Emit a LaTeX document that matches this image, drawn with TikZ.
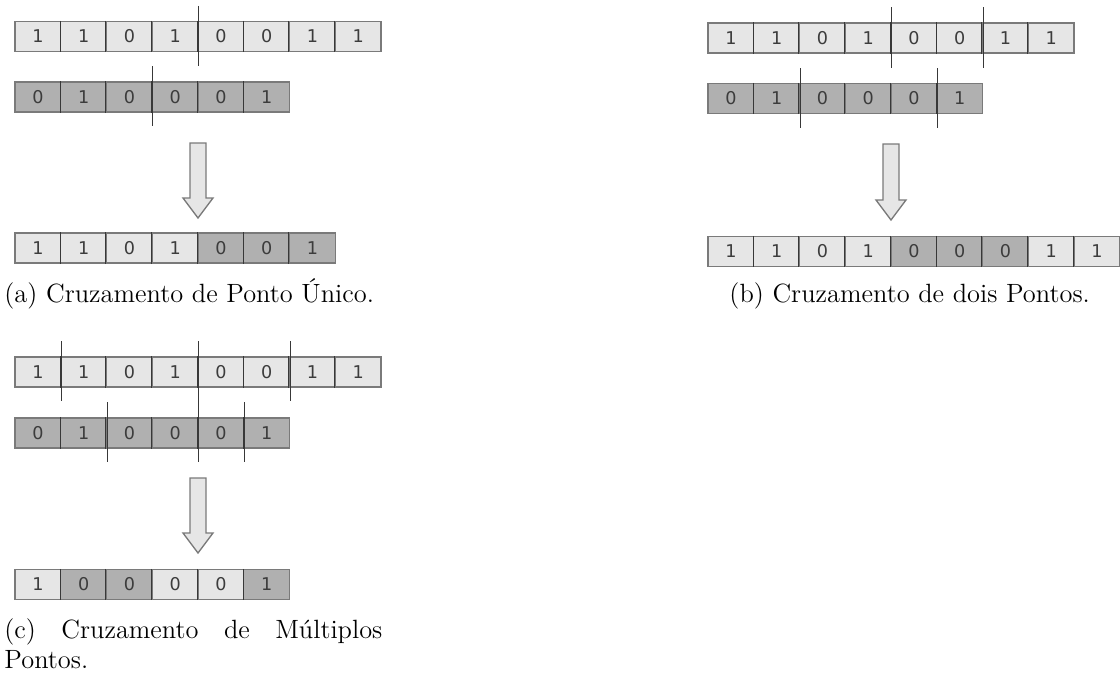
\documentclass[tikz,border=0pt]{standalone}
\usepackage{fontspec}
\newfontfamily\bitfont{DejaVu Sans}
\usetikzlibrary{positioning}

\definecolor{cl}{HTML}{E6E6E6}
\definecolor{es}{HTML}{B0B0B0}
\definecolor{borda}{HTML}{7A7A7A}
\definecolor{divisa}{HTML}{383838}
\definecolor{digito}{HTML}{3C3C3C}

\tikzset{
  bit/.style={draw=borda, line width=0.55pt, minimum width=20.8pt,
              minimum height=13.6pt, inner sep=0pt, text=digito,
              font=\bitfont\fontsize{8}{9}\selectfont},
  corte/.style={draw=divisa, line width=0.5pt},
  seta/.style={draw=borda, fill=cl, line width=0.6pt},
  legenda/.style={anchor=base west, inner sep=0pt,
                  font=\fontsize{12}{14.5}\selectfont},
}

% fileira de bits: nome, x inicial, y do centro, lista bit/cor
\newcommand{\fileira}[4]{%
  \foreach \v/\s [count=\i] in {#4} {
    \node[bit, fill=\s] (#1-\i) at ({#2+(\i-0.5)*45.75},#3) {\v};
    \ifnum\i>1
      \draw[divisa, line width=0.5pt] (#1-\i.north west) -- (#1-\i.south west);
    \fi
  }%
}
% seta para baixo: x do centro, y do topo, y da ponta
\newcommand{\setabaixo}[3]{%
  \draw[seta] (#1-8,#2) -- (#1+8,#2) -- (#1+8,#3-20) -- (#1+15,#3-20)
    -- (#1,#3) -- (#1-15,#3-20) -- (#1-8,#3-20) -- cycle;
}

\begin{document}
\begin{tikzpicture}[x=0.4545pt, y=-0.4545pt]
  \useasboundingbox (0,0) rectangle (1120,675);

  % (a) ponto unico
  \fileira{a1}{15}{36.5}{1/cl,1/cl,0/cl,1/cl,0/cl,0/cl,1/cl,1/cl}
  \fileira{a2}{15}{97}{0/es,1/es,0/es,0/es,0/es,1/es}
  \draw[corte] (a1-4.north east) ++(0,-15) -- ++(0,60);
  \draw[corte] (a2-3.north east) ++(0,-15) -- ++(0,60);
  \setabaixo{198}{143}{218}
  \fileira{a3}{15}{248}{1/cl,1/cl,0/cl,1/cl,0/es,0/es,1/es}
  \node[legenda] (capa) at (4,302) {(a) Cruzamento de Ponto Único.};

  % (b) dois pontos
  \fileira{b1}{708}{38}{1/cl,1/cl,0/cl,1/cl,0/cl,0/cl,1/cl,1/cl}
  \fileira{b2}{708}{98.5}{0/es,1/es,0/es,0/es,0/es,1/es}
  \draw[corte] (b1-4.north east) ++(0,-15) -- ++(0,61);
  \draw[corte] (b1-6.north east) ++(0,-15) -- ++(0,61);
  \draw[corte] (b2-2.north east) ++(0,-14.5) -- ++(0,60);
  \draw[corte] (b2-5.north east) ++(0,-14.5) -- ++(0,60);
  \setabaixo{891}{144}{220}
  \fileira{b3}{708}{251.5}{1/cl,1/cl,0/cl,1/cl,0/es,0/es,0/es,1/cl,1/cl}
  \node[legenda] (capb) at (729,302) {(b) Cruzamento de dois Pontos.};

  % (c) multiplos pontos
  \fileira{c1}{15}{372}{1/cl,1/cl,0/cl,1/cl,0/cl,0/cl,1/cl,1/cl}
  \fileira{c2}{15}{433}{0/es,1/es,0/es,0/es,0/es,1/es}
  \draw[corte] (c1-1.north east) ++(0,-15) -- ++(0,60);
  \draw[corte] (c1-4.north east) ++(0,-15) -- ++(0,121);
  \draw[corte] (c1-6.north east) ++(0,-15) -- ++(0,60);
  \draw[corte] (c2-2.north east) ++(0,-15) -- ++(0,60);
  \draw[corte] (c2-5.north east) ++(0,-15) -- ++(0,60);
  \setabaixo{198}{478}{553}
  \fileira{c3}{15}{584.5}{1/cl,0/es,0/es,0/cl,0/cl,1/es}
  \node[legenda] (capc) at (4,638)
    {\makebox[171.8pt][s]{(c) Cruzamento de Múltiplos}};
  \node[legenda] (capc2) at (4,668) {Pontos.};
\end{tikzpicture}
\end{document}
